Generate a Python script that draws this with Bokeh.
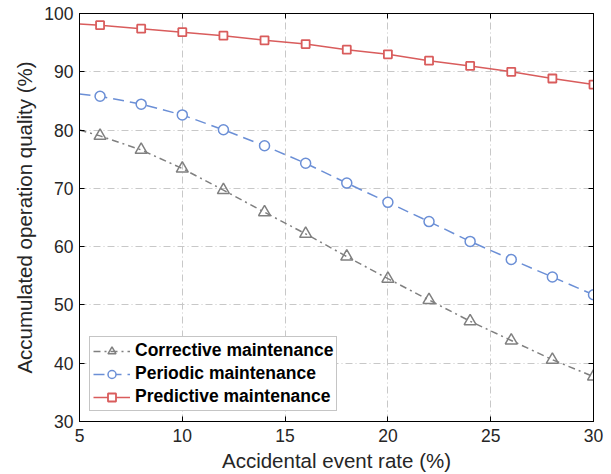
from bokeh.plotting import figure
from bokeh.models import LinearAxis, Legend, LegendItem, FixedTicker
from bokeh.embed import file_html
from bokeh.resources import INLINE

# Data
event_rate = [5, 6, 8, 10, 12, 14, 16, 18, 20, 22, 24, 26, 28, 30]
corrective = [80.0, 79.0, 76.6, 73.4, 69.7, 65.9, 62.2, 58.3, 54.5, 50.85, 47.2, 43.9, 40.6, 37.7]
periodic = [86.2, 85.8, 84.45, 82.6, 80.05, 77.3, 74.3, 70.9, 67.6, 64.3, 60.9, 57.8, 54.8, 51.75]
predictive = [98.2, 98.0, 97.4, 96.8, 96.2, 95.4, 94.75, 93.8, 93.0, 91.9, 91.0, 90.0, 88.85, 87.8]
series_names = ["Corrective maintenance", "Periodic maintenance", "Predictive maintenance"]
x_ticks = [5, 10, 15, 20, 25, 30]
y_ticks = [30, 40, 50, 60, 70, 80, 90, 100]

FONT = "Liberation Sans"

p = figure(frame_width=514, frame_height=408, x_range=(5, 30), y_range=(30, 100),
           output_backend="svg", toolbar_location=None,
           min_border_left=79, min_border_right=16, min_border_top=13, min_border_bottom=50)
p.background_fill_color = "white"
p.border_fill_color = "white"
p.outline_line_color = "black"
p.outline_line_width = 1

for ax in (p.xaxis[0], p.yaxis[0]):
    ax.major_tick_in = 5
    ax.major_tick_out = 0
    ax.minor_tick_line_color = None
    ax.axis_line_color = "black"
    ax.major_tick_line_color = "black"
    ax.major_label_text_font = FONT
    ax.major_label_text_font_size = "17.5px"
    ax.major_label_text_color = "#262626"
    ax.axis_label_text_font = FONT
    ax.axis_label_text_font_size = "20.5px"
    ax.axis_label_text_font_style = "normal"
    ax.axis_label_text_color = "#262626"

p.xaxis.ticker = FixedTicker(ticks=x_ticks)
p.yaxis.ticker = FixedTicker(ticks=y_ticks)
p.xaxis.axis_label = "Accidental event rate (%)"
p.yaxis.axis_label = "Accumulated operation quality (%)"
p.xaxis.major_label_standoff = 7
p.yaxis.major_label_standoff = 6
p.xaxis.axis_label_standoff = 4
p.yaxis.axis_label_standoff = 5

top = LinearAxis(ticker=FixedTicker(ticks=x_ticks), major_tick_in=5, major_tick_out=0,
                 minor_tick_line_color=None,
                 major_label_overrides={t: "" for t in x_ticks},
                 axis_line_color="black")
right = LinearAxis(ticker=FixedTicker(ticks=y_ticks), major_tick_in=5, major_tick_out=0,
                   minor_tick_line_color=None,
                   major_label_overrides={t: "" for t in y_ticks},
                   axis_line_color="black")
p.add_layout(top, "above")
p.add_layout(right, "right")

p.xgrid.ticker = FixedTicker(ticks=x_ticks)
p.ygrid.ticker = FixedTicker(ticks=y_ticks)
for g in (p.xgrid[0], p.ygrid[0]):
    g.grid_line_color = "#c8c8c8"
    g.grid_line_dash = "7 3 1 3"
    g.grid_line_width = 1

gray = "#808080"
blue = "#6b8fd6"
red = "#d95c5c"

l1 = p.line(event_rate, corrective, line_color=gray, line_width=1.5, line_dash="7 4 2 4")
m1 = p.scatter(event_rate[1:], corrective[1:], marker="triangle", size=12,
               line_color=gray, line_width=1.5, fill_color=None)
l2 = p.line(event_rate, periodic, line_color=blue, line_width=1.5, line_dash="11 6")
m2 = p.scatter(event_rate[1:], periodic[1:], marker="circle", size=10,
               line_color=blue, line_width=1.5, fill_color="white")
l3 = p.line(event_rate, predictive, line_color=red, line_width=1.5)
m3 = p.scatter(event_rate[1:], predictive[1:], marker="square", size=8,
               line_color=red, line_width=1.8, fill_color="white")

legend = Legend(items=[
    LegendItem(label=series_names[0], renderers=[l1, m1]),
    LegendItem(label=series_names[1], renderers=[l2, m2]),
    LegendItem(label=series_names[2], renderers=[l3, m3]),
], location="bottom_left")
legend.label_text_font = FONT
legend.label_text_font_style = "bold"
legend.label_text_font_size = "17.5px"
legend.label_text_color = "black"
legend.border_line_color = "#8c8c8c"
legend.border_line_width = 1
legend.background_fill_color = "white"
legend.background_fill_alpha = 1
legend.glyph_width = 37
legend.glyph_height = 20
legend.label_standoff = 5
legend.spacing = 2
legend.padding = 3
legend.margin = 10
legend.label_height = 20
p.add_layout(legend, "center")

open("out.html", "w").write(file_html(p, INLINE))
